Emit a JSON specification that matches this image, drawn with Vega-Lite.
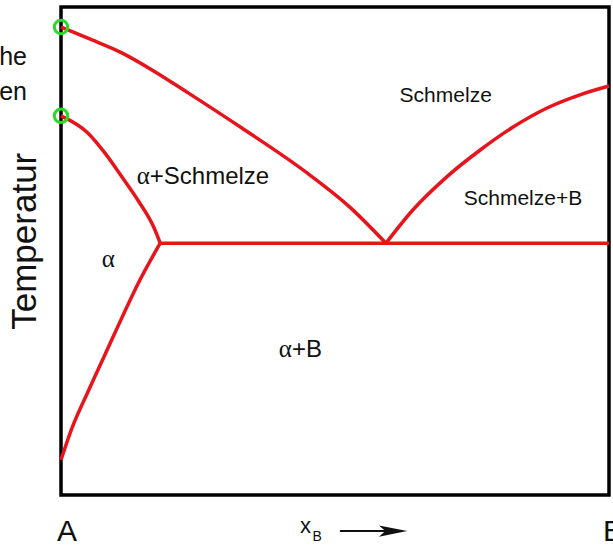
{
  "$schema": "https://vega.github.io/schema/vega-lite/v6.json",
  "width": 548,
  "height": 488,
  "autosize": "none",
  "padding": {"left": 61, "top": 7, "right": 4, "bottom": 50},
  "background": "white",
  "config": {"view": {"stroke": "black", "strokeWidth": 3.5}},
  "datasets": {
    "curves": [
      {"curve": "liquidus A", "x": 0.0, "y": 0.959},
      {"curve": "liquidus A", "x": 0.049, "y": 0.936},
      {"curve": "liquidus A", "x": 0.111, "y": 0.906},
      {"curve": "liquidus A", "x": 0.172, "y": 0.867},
      {"curve": "liquidus A", "x": 0.232, "y": 0.824},
      {"curve": "liquidus A", "x": 0.330, "y": 0.752},
      {"curve": "liquidus A", "x": 0.449, "y": 0.660},
      {"curve": "liquidus A", "x": 0.527, "y": 0.590},
      {"curve": "liquidus A", "x": 0.593, "y": 0.516},
      {"curve": "liquidus B", "x": 0.593, "y": 0.516},
      {"curve": "liquidus B", "x": 0.642, "y": 0.584},
      {"curve": "liquidus B", "x": 0.704, "y": 0.652},
      {"curve": "liquidus B", "x": 0.765, "y": 0.707},
      {"curve": "liquidus B", "x": 0.825, "y": 0.754},
      {"curve": "liquidus B", "x": 0.887, "y": 0.793},
      {"curve": "liquidus B", "x": 0.947, "y": 0.820},
      {"curve": "liquidus B", "x": 1.0, "y": 0.838},
      {"curve": "eutectic", "x": 0.181, "y": 0.516},
      {"curve": "eutectic", "x": 1.0, "y": 0.516},
      {"curve": "solidus", "x": 0.0, "y": 0.777},
      {"curve": "solidus", "x": 0.049, "y": 0.742},
      {"curve": "solidus", "x": 0.080, "y": 0.701},
      {"curve": "solidus", "x": 0.111, "y": 0.652},
      {"curve": "solidus", "x": 0.141, "y": 0.603},
      {"curve": "solidus", "x": 0.170, "y": 0.547},
      {"curve": "solidus", "x": 0.181, "y": 0.516},
      {"curve": "solvus", "x": 0.0, "y": 0.072},
      {"curve": "solvus", "x": 0.020, "y": 0.137},
      {"curve": "solvus", "x": 0.049, "y": 0.211},
      {"curve": "solvus", "x": 0.080, "y": 0.287},
      {"curve": "solvus", "x": 0.111, "y": 0.363},
      {"curve": "solvus", "x": 0.141, "y": 0.434},
      {"curve": "solvus", "x": 0.181, "y": 0.516}
    ],
    "melting": [
      {"x": 0.0, "y": 0.959},
      {"x": 0.0, "y": 0.777}
    ],
    "regions": [
      {"label": "Schmelze", "x": 0.702, "y": 0.805},
      {"label": "Schmelze+B", "x": 0.843, "y": 0.594}
    ],
    "regionRest": [
      {"label": "+Schmelze", "x": 0.162, "y": 0.637},
      {"label": "+B", "x": 0.4215, "y": 0.283}
    ],
    "alphas": [
      {"label": "α", "x": 0.162, "y": 0.637},
      {"label": "α", "x": 0.4215, "y": 0.283},
      {"label": "α", "x": 0.0985, "y": 0.467}
    ],
    "ends": [
      {"label": "A", "x": 0.011, "y": -0.094}
    ],
    "endsB": [
      {"label": "B", "x": 0.989, "y": -0.094}
    ],
    "ytitle": [
      {"label": "Temperatur", "x": -0.045, "y": 0.52}
    ],
    "xvar": [
      {"label": "x", "x": 0.436, "y": -0.078}
    ],
    "xsub": [
      {"label": "B", "x": 0.459, "y": -0.094}
    ],
    "arrowLine": [
      {"x": 0.509, "x2": 0.6, "y": -0.074}
    ],
    "arrowHead": [
      {"x": 0.606, "y": -0.074}
    ],
    "leftText": [
      {"label": "he", "x": -0.062, "y": 0.881},
      {"label": "en", "x": -0.062, "y": 0.809}
    ]
  },
  "encoding": {
    "x": {"field": "x", "type": "quantitative", "scale": {"domain": [0, 1], "nice": false, "zero": false}, "axis": null},
    "y": {"field": "y", "type": "quantitative", "scale": {"domain": [0, 1], "nice": false, "zero": false}, "axis": null}
  },
  "layer": [
    {
      "data": {"name": "curves"},
      "mark": {"type": "line", "color": "#e8141c", "strokeWidth": 3.5, "interpolate": "monotone"},
      "encoding": {"detail": {"field": "curve", "type": "nominal"}}
    },
    {
      "data": {"name": "melting"},
      "mark": {"type": "point", "shape": "circle", "size": 180, "filled": false, "stroke": "#22dd22", "strokeWidth": 3, "opacity": 1}
    },
    {
      "data": {"name": "regions"},
      "mark": {"type": "text", "font": "Liberation Sans", "fontSize": 21, "align": "center", "baseline": "alphabetic", "color": "#111"},
      "encoding": {"text": {"field": "label"}}
    },
    {
      "data": {"name": "regionRest"},
      "mark": {"type": "text", "font": "Liberation Sans", "fontSize": 24, "align": "left", "baseline": "alphabetic", "color": "#111"},
      "encoding": {"text": {"field": "label"}}
    },
    {
      "data": {"name": "alphas"},
      "mark": {"type": "text", "font": "Liberation Serif", "fontSize": 25, "align": "right", "baseline": "alphabetic", "color": "#111"},
      "encoding": {"text": {"field": "label"}}
    },
    {
      "data": {"name": "ends"},
      "mark": {"type": "text", "font": "Liberation Sans", "fontSize": 30, "align": "center", "baseline": "alphabetic", "color": "#111"},
      "encoding": {"text": {"field": "label"}}
    },
    {
      "data": {"name": "endsB"},
      "mark": {"type": "text", "font": "Liberation Sans", "fontSize": 30, "align": "left", "baseline": "alphabetic", "color": "#111"},
      "encoding": {"text": {"field": "label"}}
    },
    {
      "data": {"name": "ytitle"},
      "mark": {"type": "text", "font": "Liberation Sans", "fontSize": 35, "angle": 270, "align": "center", "baseline": "alphabetic", "color": "#111"},
      "encoding": {"text": {"field": "label"}}
    },
    {
      "data": {"name": "xvar"},
      "mark": {"type": "text", "font": "Liberation Sans", "fontSize": 22, "align": "left", "baseline": "alphabetic", "color": "#111"},
      "encoding": {"text": {"field": "label"}}
    },
    {
      "data": {"name": "xsub"},
      "mark": {"type": "text", "font": "Liberation Sans", "fontSize": 14, "align": "left", "baseline": "alphabetic", "color": "#111"},
      "encoding": {"text": {"field": "label"}}
    },
    {
      "data": {"name": "arrowLine"},
      "mark": {"type": "rule", "color": "#111", "strokeWidth": 2},
      "encoding": {"x2": {"field": "x2"}}
    },
    {
      "data": {"name": "arrowHead"},
      "mark": {"type": "point", "shape": "M -1 -0.4 L 1 0 L -1 0.4 L -0.55 0 Z", "size": 800, "filled": true, "color": "#111", "opacity": 1}
    },
    {
      "data": {"name": "leftText"},
      "mark": {"type": "text", "font": "Liberation Sans", "fontSize": 25, "align": "right", "baseline": "alphabetic", "color": "#111"},
      "encoding": {"text": {"field": "label"}}
    }
  ]
}
